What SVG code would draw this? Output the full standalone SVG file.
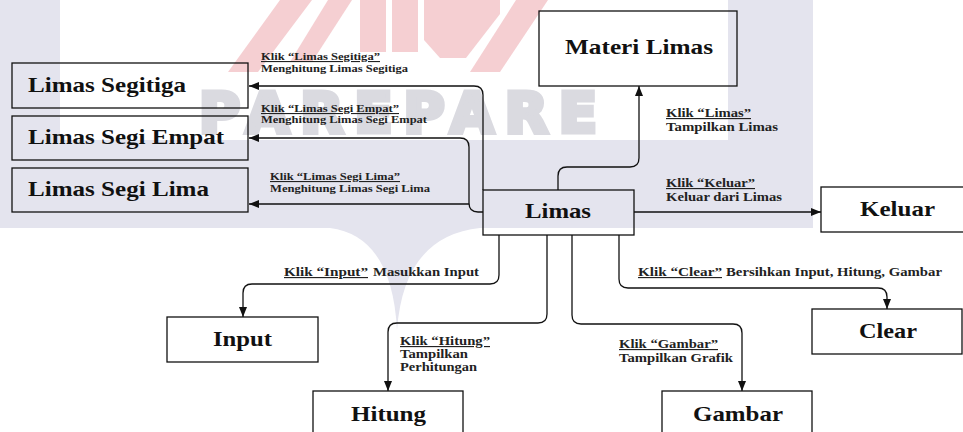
<svg xmlns="http://www.w3.org/2000/svg" width="963" height="432" viewBox="0 0 963 432">
  <style>
    .box { fill: none; stroke: #111; stroke-width: 1.3; }
    .title { font-family: "Liberation Serif", "Times New Roman", serif; font-weight: bold; font-size: 22px; fill: #111; }
    .lbl { font-family: "Liberation Serif", "Times New Roman", serif; font-weight: bold; font-size: 11px; fill: #222; }
    .lbl-r { font-size: 11.5px; }
    .u { text-decoration: underline; }
    .edge { fill: none; stroke: #111; stroke-width: 1.3; }
    .wm { fill: #e4e4ee; }
    .wm-pink { fill: #f5cfd2; }
    .wm-text { font-family: "DejaVu Sans", "Liberation Sans", sans-serif; font-weight: bold; font-size: 56px; fill: #dadae0; stroke: #dadae0; stroke-width: 5; stroke-linejoin: miter; }
  </style>
  <defs>
    <marker id="arrow" markerUnits="userSpaceOnUse" markerWidth="10" markerHeight="8" refX="10" refY="4" orient="auto">
      <path d="M0,0 L10,4 L0,8 z" fill="#111"/>
    </marker>
  </defs>

  <rect width="963" height="432" fill="#ffffff"/>

  <!-- faint background emblem -->
  <g id="background">
    <rect class="wm" x="0" y="0" width="60" height="228"/>
    <rect class="wm" x="728" y="0" width="85" height="228"/>
    <rect class="wm" x="0" y="140" width="813" height="88"/>
    <path class="wm" d="M330,228 Q392,236 397,330 Q404,236 480,228 Z"/>
    <polygon class="wm-pink" points="228,72 258,72 312,0 280,0"/>
    <polygon class="wm-pink" points="290,62 312,62 352,0 328,0"/>
    <rect class="wm-pink" x="360" y="0" width="26" height="52"/>
    <rect class="wm-pink" x="392" y="0" width="26" height="52"/>
    <polygon class="wm-pink" points="424,0 500,0 500,14 466,58 440,58 424,40"/>
    <polygon class="wm-pink" points="470,72 500,72 548,0 516,0"/>
    <text class="wm-text" x="199" y="132" textLength="398" lengthAdjust="spacing">PAREPARE</text>
  </g>

  <!-- connectors -->
  <g id="connectors">
    <path class="edge" d="M558,190 V176 Q558,167 567,167 H630 Q639,167 639,158 V86" marker-end="url(#arrow)"/>
    <path class="edge" d="M634,212 H821" marker-end="url(#arrow)"/>
    <path class="edge" d="M483,190 V95 Q483,86 474,86 H249" marker-end="url(#arrow)"/>
    <path class="edge" d="M483,212 H478 Q469,212 469,203 V147 Q469,138 460,138 H249" marker-end="url(#arrow)"/>
    <path class="edge" d="M469,204 H249" marker-end="url(#arrow)"/>
    <path class="edge" d="M499,235 V275 Q499,284 490,284 H252 Q243,284 243,293 V317" marker-end="url(#arrow)"/>
    <path class="edge" d="M547,235 V314 Q547,323 538,323 H397 Q388,323 388,332 V391" marker-end="url(#arrow)"/>
    <path class="edge" d="M572,235 V315 Q572,324 581,324 H733 Q742,324 742,333 V391" marker-end="url(#arrow)"/>
    <path class="edge" d="M619,235 V279 Q619,288 628,288 H878 Q887,288 887,297 V309" marker-end="url(#arrow)"/>

    <!-- connector labels -->
    <text class="lbl u" x="261" y="60" textLength="119" lengthAdjust="spacingAndGlyphs">Klik “Limas Segitiga”</text>
    <text class="lbl" x="261" y="72" textLength="147" lengthAdjust="spacingAndGlyphs">Menghitung Limas Segitiga</text>
    <text class="lbl u" x="261" y="112" textLength="138" lengthAdjust="spacingAndGlyphs">Klik “Limas Segi Empat”</text>
    <text class="lbl" x="261" y="123" textLength="166" lengthAdjust="spacingAndGlyphs">Menghitung Limas Segi Empat</text>
    <text class="lbl u" x="270" y="180" textLength="130" lengthAdjust="spacingAndGlyphs">Klik “Limas Segi Lima”</text>
    <text class="lbl" x="270" y="192" textLength="160" lengthAdjust="spacingAndGlyphs">Menghitung Limas Segi Lima</text>
    <text class="lbl lbl-r u" x="666" y="117" textLength="85" lengthAdjust="spacingAndGlyphs">Klik “Limas”</text>
    <text class="lbl lbl-r" x="666" y="131" textLength="112" lengthAdjust="spacingAndGlyphs">Tampilkan Limas</text>
    <text class="lbl lbl-r u" x="666" y="187" textLength="89" lengthAdjust="spacingAndGlyphs">Klik “Keluar”</text>
    <text class="lbl lbl-r" x="666" y="201" textLength="116" lengthAdjust="spacingAndGlyphs">Keluar dari Limas</text>
    <text class="lbl lbl-r u" x="284" y="276" textLength="84" lengthAdjust="spacingAndGlyphs">Klik “Input” </text>
    <text class="lbl lbl-r" x="373" y="276" textLength="106" lengthAdjust="spacingAndGlyphs">Masukkan Input</text>
    <text class="lbl lbl-r u" x="400" y="345" textLength="90" lengthAdjust="spacingAndGlyphs">Klik “Hitung”</text>
    <text class="lbl lbl-r" x="400" y="358" textLength="68" lengthAdjust="spacingAndGlyphs">Tampilkan</text>
    <text class="lbl lbl-r" x="400" y="371" textLength="77" lengthAdjust="spacingAndGlyphs">Perhitungan</text>
    <text class="lbl lbl-r u" x="619" y="348" textLength="99" lengthAdjust="spacingAndGlyphs">Klik “Gambar”</text>
    <text class="lbl lbl-r" x="619" y="362" textLength="114" lengthAdjust="spacingAndGlyphs">Tampilkan Grafik</text>
    <text class="lbl lbl-r u" x="638" y="276" textLength="84" lengthAdjust="spacingAndGlyphs">Klik “Clear” </text>
    <text class="lbl lbl-r" x="726" y="276" textLength="216" lengthAdjust="spacingAndGlyphs">Bersihkan Input, Hitung, Gambar</text>
  </g>

  <!-- nodes -->
  <g id="node-limas-segitiga">
    <rect class="box" x="12" y="63" width="236" height="45"/>
    <text class="title" x="28" y="92" textLength="158" lengthAdjust="spacingAndGlyphs">Limas Segitiga</text>
  </g>
  <g id="node-limas-segi-empat">
    <rect class="box" x="12" y="116" width="236" height="44"/>
    <text class="title" x="28" y="144" textLength="196" lengthAdjust="spacingAndGlyphs">Limas Segi Empat</text>
  </g>
  <g id="node-limas-segi-lima">
    <rect class="box" x="12" y="168" width="236" height="44"/>
    <text class="title" x="28" y="196" textLength="181" lengthAdjust="spacingAndGlyphs">Limas Segi Lima</text>
  </g>
  <g id="node-materi-limas">
    <rect class="box" x="539" y="11" width="198" height="75"/>
    <text class="title" x="565" y="54" textLength="148" lengthAdjust="spacingAndGlyphs">Materi Limas</text>
  </g>
  <g id="node-limas">
    <rect class="box" x="483" y="190" width="151" height="45"/>
    <text class="title" x="525" y="218" textLength="66" lengthAdjust="spacingAndGlyphs">Limas</text>
  </g>
  <g id="node-keluar">
    <rect class="box" x="821" y="187" width="152" height="45"/>
    <text class="title" x="860" y="216" textLength="75" lengthAdjust="spacingAndGlyphs">Keluar</text>
  </g>
  <g id="node-clear">
    <rect class="box" x="812" y="309" width="150" height="45"/>
    <text class="title" x="859" y="338" textLength="58" lengthAdjust="spacingAndGlyphs">Clear</text>
  </g>
  <g id="node-input">
    <rect class="box" x="167" y="317" width="151" height="45"/>
    <text class="title" x="213" y="346" textLength="59" lengthAdjust="spacingAndGlyphs">Input</text>
  </g>
  <g id="node-hitung">
    <rect class="box" x="313" y="391" width="150" height="50"/>
    <text class="title" x="351" y="421" textLength="75" lengthAdjust="spacingAndGlyphs">Hitung</text>
  </g>
  <g id="node-gambar">
    <rect class="box" x="662" y="391" width="150" height="50"/>
    <text class="title" x="693" y="421" textLength="90" lengthAdjust="spacingAndGlyphs">Gambar</text>
  </g>
</svg>
